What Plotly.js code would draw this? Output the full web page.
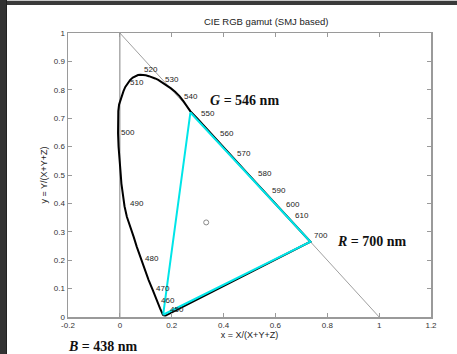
<!DOCTYPE html>
<html>
<head>
<meta charset="utf-8">
<script src="https://cdn.plot.ly/plotly-3.0.1.min.js"></script>
<style>
  html, body { margin: 0; padding: 0; background: #ffffff; }
  #wrap { position: relative; width: 457px; height: 354px; overflow: hidden; }
  #chart { position: absolute; left: 0; top: 0; width: 457px; height: 354px; }
  #barTop { position: absolute; left: 0; top: 0; width: 457px; height: 5px; background: #3a3a3a; border-top: 1px solid #c8c8c8; box-sizing: border-box; }
  #barLeft { position: absolute; left: 0; top: 0; width: 6px; height: 354px; background: #333333; border-right: 1px solid #222; }
</style>
</head>
<body>
<div id="wrap">
  <div id="chart"></div>
  <div id="barTop"></div>
  <div id="barLeft"></div>
</div>
<script>
// Spectral locus, from the violet end up around to 700 nm, then closed
const locusX = [0.174, 0.166, 0.155, 0.143, 0.127, 0.111, 0.095, 0.079, 0.065, 0.053, 0.039, 0.027, 0.018, 0.012, 0.006, 0.002, -0.002, -0.005, -0.007, -0.007, -0.006, -0.003, 0.002, 0.008, 0.014, 0.021, 0.030, 0.040, 0.050, 0.060, 0.070, 0.079, 0.090, 0.100, 0.112, 0.125, 0.136, 0.148, 0.164, 0.180, 0.197, 0.213, 0.230, 0.245, 0.259, 0.272, 0.300, 0.350, 0.400, 0.450, 0.500, 0.550, 0.600, 0.650, 0.700, 0.735, 0.174];
const locusY = [0.004, 0.008, 0.030, 0.060, 0.095, 0.130, 0.170, 0.212, 0.248, 0.283, 0.320, 0.353, 0.390, 0.430, 0.470, 0.518, 0.553, 0.600, 0.647, 0.690, 0.725, 0.748, 0.763, 0.778, 0.795, 0.810, 0.824, 0.835, 0.843, 0.849, 0.852, 0.853, 0.853, 0.851, 0.848, 0.845, 0.840, 0.835, 0.826, 0.816, 0.805, 0.793, 0.778, 0.760, 0.741, 0.724, 0.697, 0.648, 0.598, 0.548, 0.498, 0.448, 0.398, 0.348, 0.298, 0.265, 0.004];

// RGB primaries triangle (G = 546 nm, R = 700 nm, B = 438 nm), closed
const primaryX = [0.167, 0.272, 0.735, 0.167];
const primaryY = [0.008, 0.720, 0.265, 0.008];

// White point
const whiteX = [0.333];
const whiteY = [0.333];

// Reference lines: x + y = 1 and x = 0
const diagX = [0, 1];
const diagY = [1, 0];
const vertX = [0, 0];
const vertY = [0, 1];

// Wavelength labels and their positions
const wlLabels = ['450', '460', '470', '480', '490', '500', '510', '520', '530', '540', '550', '560', '570', '580', '590', '600', '610', '700'];
const wlX = [0.188, 0.156, 0.134, 0.094, 0.034, 0.002, 0.034, 0.091, 0.171, 0.242, 0.310, 0.381, 0.449, 0.527, 0.583, 0.635, 0.673, 0.746];
const wlY = [0.027, 0.057, 0.101, 0.207, 0.400, 0.649, 0.825, 0.873, 0.835, 0.776, 0.715, 0.647, 0.574, 0.506, 0.445, 0.395, 0.357, 0.286];

// Primary labels
const primLabels = ['<b><i>G</i> = 546 nm</b>', '<b><i>R</i> = 700 nm</b>', '<b><i>B</i> = 438 nm</b>'];
const primLabelX = [0.342, 0.832, -0.204];
const primLabelY = [0.764, 0.265, -0.105];

// Ticks
const xTickVals = [-0.2, 0, 0.2, 0.4, 0.6, 0.8, 1, 1.2];
const xTickText = ['-0.2', '0', '0.2', '0.4', '0.6', '0.8', '1', '1.2'];
const yTickVals = [0, 0.1, 0.2, 0.3, 0.4, 0.5, 0.6, 0.7, 0.8, 0.9, 1];
const yTickText = ['0', '0.1', '0.2', '0.3', '0.4', '0.5', '0.6', '0.7', '0.8', '0.9', '1'];

const xRange = [-0.2, 1.2];
const yRange = [0, 1];

const sans = 'Liberation Sans, Arial, sans-serif';
const serif = 'Liberation Serif, Times New Roman, serif';

const traces = [
  { x: diagX, y: diagY, mode: 'lines', line: { color: '#a0a0a0', width: 1 }, hoverinfo: 'skip' },
  { x: vertX, y: vertY, mode: 'lines', line: { color: '#808080', width: 1 }, hoverinfo: 'skip' },
  { x: locusX, y: locusY, mode: 'lines', line: { color: '#000000', width: 2 }, hoverinfo: 'skip' },
  { x: primaryX, y: primaryY, mode: 'lines', line: { color: '#00e5e8', width: 2 }, hoverinfo: 'skip' },
  { x: whiteX, y: whiteY, mode: 'markers', marker: { symbol: 'circle-open', size: 5, color: '#888888', line: { width: 1, color: '#888888' } }, hoverinfo: 'skip' }
];

// Annotations are placed in paper coordinates converted from data values so that
// labels lying outside the axes (B = 438 nm) are still drawn.
const toPx = (x) => (x - xRange[0]) / (xRange[1] - xRange[0]);
const toPy = (y) => (y - yRange[0]) / (yRange[1] - yRange[0]);

const annotations = [];
wlLabels.forEach((t, i) => {
  annotations.push({ x: wlX[i], y: wlY[i], xref: 'x', yref: 'y', text: t, showarrow: false,
    xanchor: 'left', yanchor: 'middle', borderpad: 0, font: { family: sans, size: 8, color: '#222' } });
});
primLabels.forEach((t, i) => {
  annotations.push({ x: toPx(primLabelX[i]), y: toPy(primLabelY[i]), xref: 'paper', yref: 'paper', text: t, showarrow: false,
    xanchor: 'left', yanchor: 'middle', borderpad: 0, font: { family: serif, size: 14, color: '#111' } });
});

const axisCommon = {
  showline: true, linecolor: '#9a9a9a', linewidth: 1.5, mirror: 'allticks',
  ticks: 'inside', ticklen: 4, tickcolor: '#9a9a9a', tickwidth: 1,
  showgrid: false, zeroline: false, fixedrange: true,
  tickfont: { family: sans, size: 8, color: '#333' }
};

const layout = {
  width: 457, height: 354,
  margin: { l: 68, r: 26, t: 33, b: 37, pad: 0 },
  paper_bgcolor: '#ffffff', plot_bgcolor: '#ffffff',
  showlegend: false,
  title: { text: 'CIE RGB gamut (SMJ based)', font: { family: sans, size: 9.5, color: '#222' },
    x: 0.546, xref: 'paper', xanchor: 'center', y: 1 - 22 / 354, yref: 'container', yanchor: 'middle' },
  xaxis: Object.assign({}, axisCommon, { range: xRange, tickmode: 'array', tickvals: xTickVals, ticktext: xTickText,
    title: { text: 'x = X/(X+Y+Z)', font: { family: sans, size: 9, color: '#222' }, standoff: 2 } }),
  yaxis: Object.assign({}, axisCommon, { range: yRange, tickmode: 'array', tickvals: yTickVals, ticktext: yTickText,
    title: { text: 'y = Y/(X+Y+Z)', font: { family: sans, size: 9, color: '#222' }, standoff: 4 } }),
  annotations: annotations
};

Plotly.newPlot('chart', traces, layout, { staticPlot: true, displayModeBar: false });
</script>
</body>
</html>
